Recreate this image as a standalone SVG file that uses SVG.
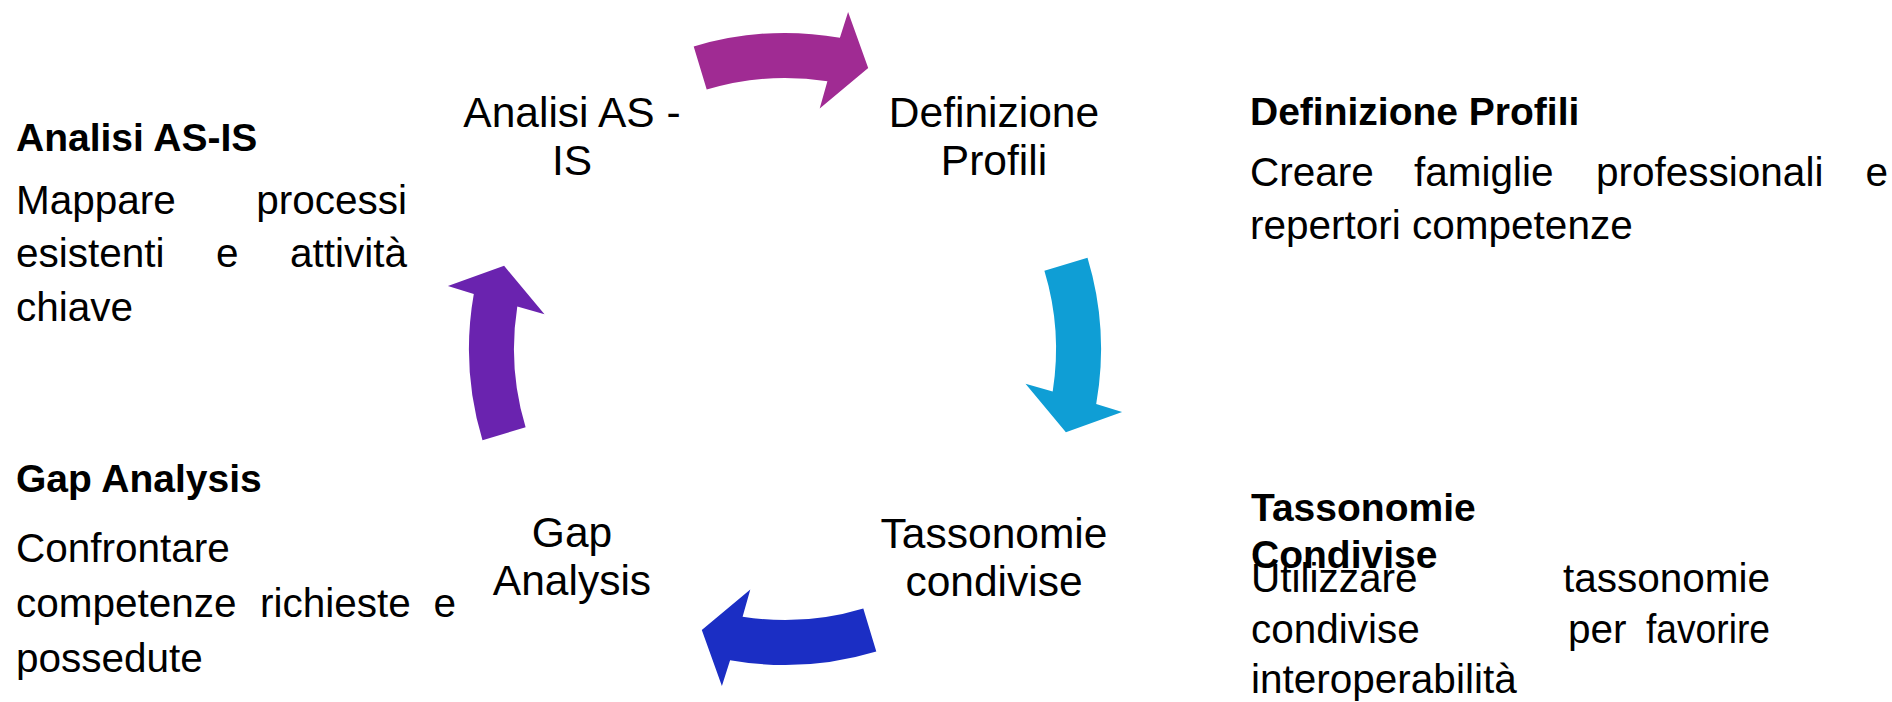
<svg xmlns="http://www.w3.org/2000/svg" width="1892" height="702" viewBox="0 0 1892 702">
  <defs>
    <style>
      .lbl { font-family: "Liberation Sans", Arial, sans-serif; font-size: 42.5px; fill: #000; text-anchor: middle; }
      .hd { font-family: "Liberation Sans", Arial, sans-serif; font-size: 39px; font-weight: bold; fill: #000; }
      .bd { font-family: "Liberation Sans", Arial, sans-serif; font-size: 40.5px; fill: #000; }
      .end { text-anchor: end; }
    </style>
    <path id="arc-arrow" d="M693.7,46.5 A316,316 0 0 1 839.9,37.8 L848.1,11.9 L868.2,68.1 L819.7,108.5 L827.4,81.3 A271,271 0 0 0 706.7,89.6 Z"/>
  </defs>
  <rect width="1892" height="702" fill="#ffffff"/>

  <g id="connectors">
    <use href="#arc-arrow" fill="#A02B93"/>
    <use href="#arc-arrow" fill="#0F9ED5" transform="rotate(90 785 349)"/>
    <use href="#arc-arrow" fill="#1B2EC4" transform="rotate(180 785 349)"/>
    <use href="#arc-arrow" fill="#6A23AF" transform="rotate(270 785 349)"/>
  </g>

  <g id="node-analisi">
    <text class="lbl" x="572" y="127">Analisi AS -</text>
    <text class="lbl" x="572" y="175">IS</text>
  </g>
  <g id="node-definizione">
    <text class="lbl" x="994" y="127">Definizione</text>
    <text class="lbl" x="994" y="175">Profili</text>
  </g>
  <g id="node-tassonomie">
    <text class="lbl" x="994" y="548">Tassonomie</text>
    <text class="lbl" x="994" y="596">condivise</text>
  </g>
  <g id="node-gap">
    <text class="lbl" x="572" y="547">Gap</text>
    <text class="lbl" x="572" y="595">Analysis</text>
  </g>

  <g id="desc-analisi">
    <text class="hd" x="16" y="151">Analisi AS-IS</text>
    <text class="bd" x="16" y="214">Mappare</text>
    <text class="bd end" x="407" y="214">processi</text>
    <text class="bd" x="16" y="267">esistenti</text>
    <text class="bd" x="216" y="267">e</text>
    <text class="bd end" x="407" y="267">attività</text>
    <text class="bd" x="16" y="321">chiave</text>
  </g>

  <g id="desc-gap">
    <text class="hd" x="16" y="492">Gap Analysis</text>
    <text class="bd" x="16" y="562">Confrontare</text>
    <text class="bd" x="16" y="617">competenze</text>
    <text class="bd" x="260" y="617">richieste</text>
    <text class="bd end" x="456" y="617">e</text>
    <text class="bd" x="16" y="672">possedute</text>
  </g>

  <g id="desc-definizione">
    <text class="hd" x="1250" y="125">Definizione Profili</text>
    <text class="bd" x="1250" y="186">Creare</text>
    <text class="bd" x="1414" y="186">famiglie</text>
    <text class="bd" x="1596" y="186">professionali</text>
    <text class="bd end" x="1888" y="186">e</text>
    <text class="bd" x="1250" y="239">repertori competenze</text>
  </g>

  <g id="desc-tassonomie">
    <text class="hd" x="1251" y="521">Tassonomie</text>
    <text class="hd" x="1251" y="568">Condivise</text>
    <text class="bd" x="1251" y="592">Utilizzare</text>
    <text class="bd end" x="1770" y="592">tassonomie</text>
    <text class="bd" x="1251" y="643">condivise</text>
    <text class="bd" x="1568" y="643">per</text>
    <text class="bd" x="1646" y="643" textLength="124" lengthAdjust="spacingAndGlyphs">favorire</text>
    <text class="bd" x="1251" y="693">interoperabilità</text>
  </g>
</svg>
